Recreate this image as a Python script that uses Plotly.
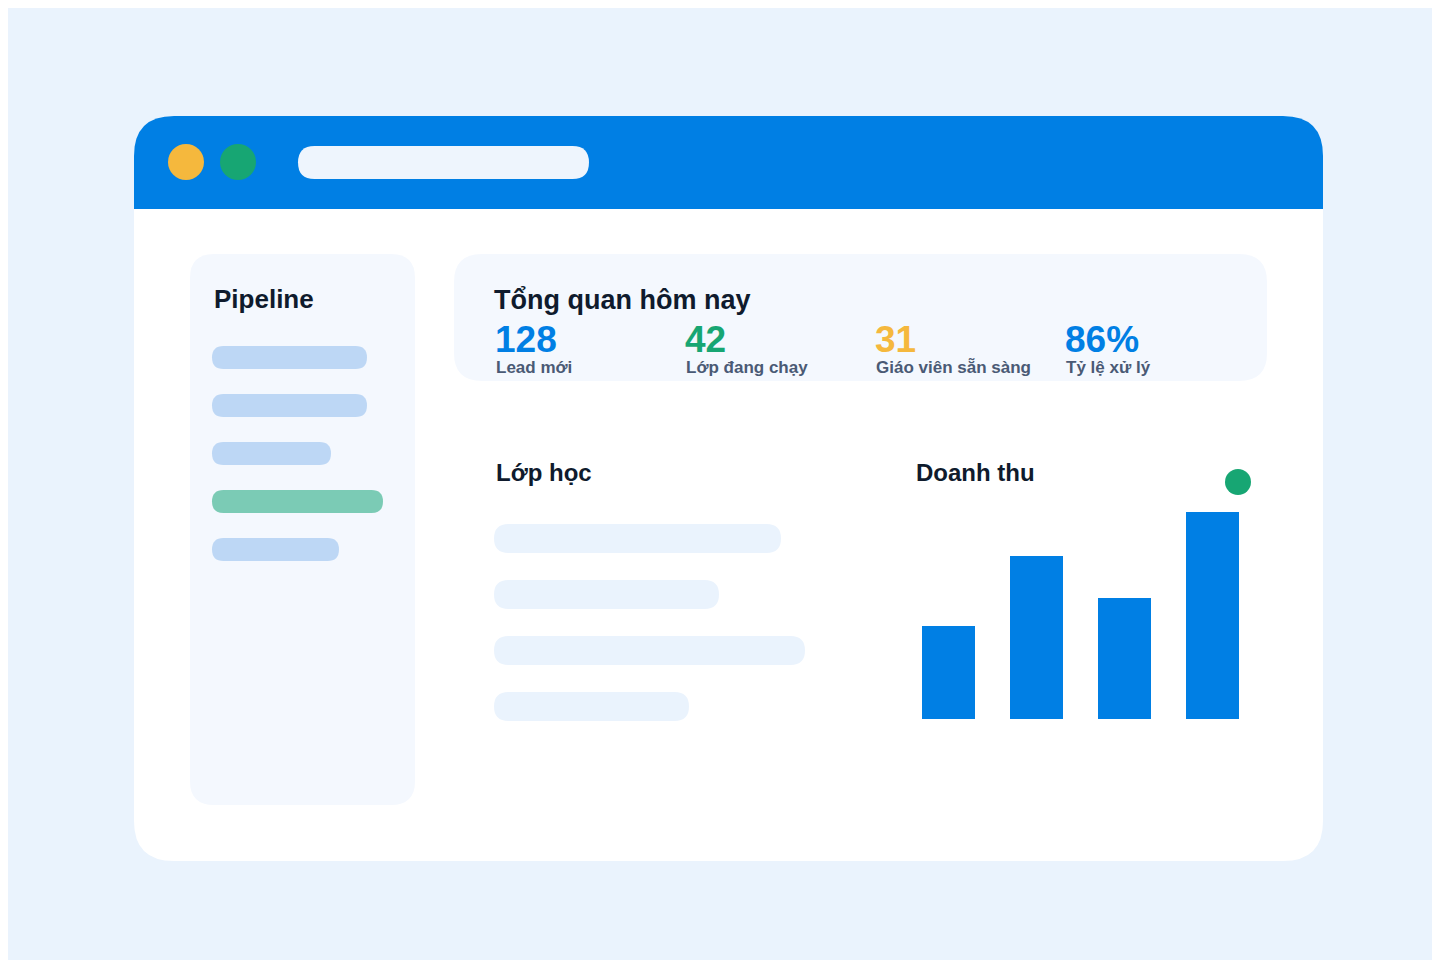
import plotly.graph_objects as go

# Data
kpi_values = ["128", "42", "31", "86%"]
kpi_labels = ["Lead mới", "Lớp đang chạy", "Giáo viên sẵn sàng", "Tỷ lệ xử lý"]
kpi_colors = ["#007FE4", "#17A673", "#F5B83D", "#007FE4"]
revenue_periods = ["Q1", "Q2", "Q3", "Q4"]
revenue_values = [93, 163, 121, 207]
pipeline_widths = [155, 155, 119, 171, 127]
class_widths = [287, 225, 311, 195]

W, H = 1440, 960
FONT = "Liberation Sans, Arial, sans-serif"
DARK = "#0F1B2D"

def rr(x0, y0, x1, y1, r, top_only=False):
    rb = 0 if top_only else r
    return (f"M{x0+r},{y0} L{x1-r},{y0} Q{x1},{y0} {x1},{y0+r} "
            f"L{x1},{y1-rb} Q{x1},{y1} {x1-rb},{y1} L{x0+rb},{y1} Q{x0},{y1} {x0},{y1-rb} "
            f"L{x0},{y0+r} Q{x0},{y0} {x0+r},{y0} Z")

shapes = []
def add_path(p, color):
    shapes.append(dict(type="path", path=p, xref="x", yref="y", fillcolor=color, line=dict(width=0), layer="below"))

add_path(rr(126, 108, 1315, 853, 40), "#FFFFFF")
add_path(rr(126, 108, 1315, 201, 40, top_only=True), "#007FE4")
for cx, col in [(178, "#F5B83D"), (230, "#17A673")]:
    shapes.append(dict(type="circle", xref="x", yref="y", x0=cx-18, x1=cx+18, y0=136, y1=172, fillcolor=col, line=dict(width=0)))
add_path(rr(290, 138, 581, 171, 16.5), "#EEF5FD")
add_path(rr(182, 246, 407, 797, 24), "#F4F8FE")
for i, w in enumerate(pipeline_widths):
    y0 = 338 + 48 * i
    add_path(rr(204, y0, 204 + w, y0 + 23, 11.5), "#7BCBB5" if i == 3 else "#BDD7F5")
add_path(rr(446, 246, 1259, 373, 28), "#F4F8FE")
for i, w in enumerate(class_widths):
    y0 = 516 + 56 * i
    add_path(rr(486, y0, 486 + w, y0 + 29, 14.5), "#EAF3FD")
shapes.append(dict(type="circle", xref="x", yref="y", x0=1217, x1=1243, y0=461, y1=487, fillcolor="#17A673", line=dict(width=0)))

ann = []
def txt(x, y, s, size, color=DARK):
    ann.append(dict(x=x, y=y, xref="x", yref="y", text=s, showarrow=False, xanchor="left", yanchor="middle",
                    font=dict(family=FONT, size=size, color=color)))

txt(204, 291, "<b>Pipeline</b>", 26)
txt(484, 292, "<b>Tổng quan hôm nay</b>", 27)
for i in range(4):
    x = 486 + 190 * i
    txt(x - 1, 331, f"<b>{kpi_values[i]}</b>", 37, kpi_colors[i])
    txt(x, 359, f"<b>{kpi_labels[i]}</b>", 17, "#4A5A75")
txt(486, 464, "<b>Lớp học</b>", 24)
txt(906, 464, "<b>Doanh thu</b>", 24)

fig = go.Figure()
fig.add_trace(go.Scatter(x=[0, W], y=[0, H], mode="markers", marker=dict(opacity=0), hoverinfo="skip", showlegend=False))
fig.add_trace(go.Bar(x=revenue_periods, y=revenue_values, xaxis="x2", yaxis="y2", marker=dict(color="#007FE4", line=dict(width=0)), showlegend=False))

fig.update_layout(
    width=W, height=H, margin=dict(l=0, r=0, t=0, b=0),
    paper_bgcolor="#EAF3FD", plot_bgcolor="rgba(0,0,0,0)",
    xaxis=dict(range=[0, W], visible=False, domain=[0, 1]),
    yaxis=dict(range=[H, 0], visible=False, domain=[0, 1]),
    xaxis2=dict(domain=[896.5 / W, 1248.5 / W], visible=False, anchor="y2"),
    yaxis2=dict(domain=[1 - 711 / H, 1 - 504 / H], range=[0, 207], visible=False, anchor="x2"),
    bargap=35 / 88,
    shapes=shapes, annotations=ann,
)
fig.write_html("out.html")
